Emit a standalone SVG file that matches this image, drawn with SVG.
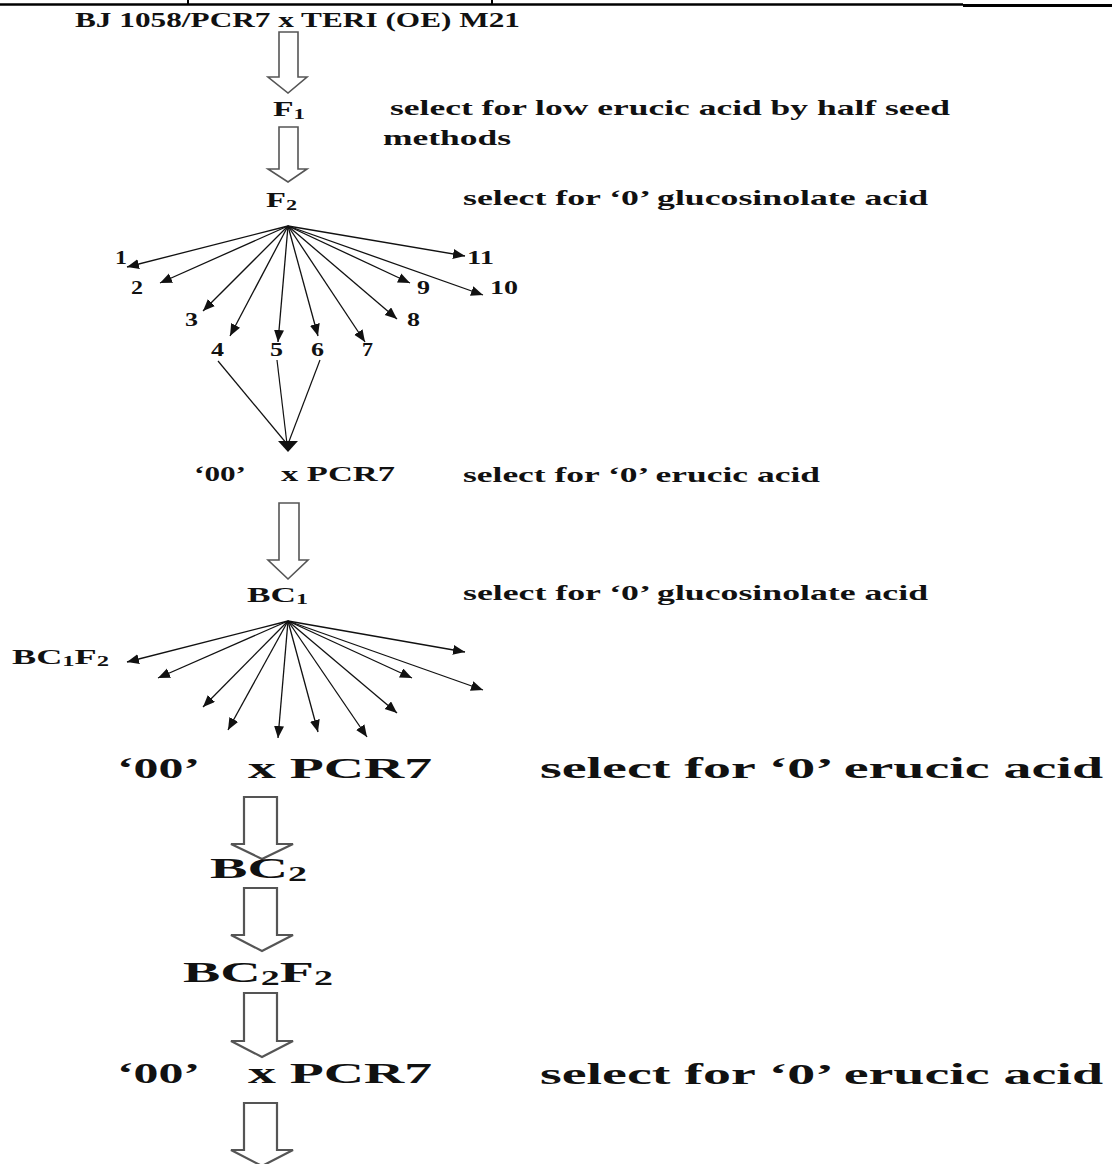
<svg xmlns="http://www.w3.org/2000/svg" width="1112" height="1164" viewBox="0 0 1112 1164">
<defs>
<style>
text{font-family:"Liberation Serif","Times New Roman",serif;font-weight:bold;fill:#111}
.s{font-size:22px}
.d{font-size:19px}
.b{font-size:30px}
.sub{font-size:0.68em}
.fan{stroke:#111;stroke-width:1.3;fill:none;marker-end:url(#ah)}
.thin{stroke:#111;stroke-width:1.2;fill:none}
.ha{fill:#fff;stroke:#555;stroke-width:1.6;stroke-linejoin:miter}
.hb{fill:#fff;stroke:#555;stroke-width:2.2;stroke-linejoin:miter}
.rule{stroke:#000;fill:none}
</style>
<marker id="ah" markerUnits="userSpaceOnUse" markerWidth="13" markerHeight="11" refX="12" refY="5" orient="auto">
<path d="M0,0 L12,5 L0,10 z" fill="#111"/>
</marker>
</defs>
<g id="frame">
<line class="rule" x1="0" y1="4.5" x2="963" y2="4.5" stroke-width="2.5"/>
<line class="rule" x1="963" y1="5.5" x2="1112" y2="5.5" stroke-width="3"/>
<line class="rule" x1="188" y1="0" x2="188" y2="5" stroke-width="2"/>
<line class="rule" x1="492" y1="0" x2="492" y2="5" stroke-width="2"/>
</g>
<g id="connectors">
<path class="ha" d="M279,32 L298,32 L298,77 L307,77 L288,93 L268,77 L279,77 Z"/>
<path class="ha" d="M279,127 L298,127 L298,169 L307,169 L288,182 L268,169 L279,169 Z"/>
<path class="ha" d="M279,503 L299,503 L299,560 L308,560 L288,579 L268,560 L279,560 Z"/>
<path class="hb" d="M244,797 L277,797 L277,844 L293,844 L262,859 L231,844 L244,844 Z"/>
<path class="hb" d="M244,888 L277,888 L277,935 L293,935 L262,951 L231,935 L244,935 Z"/>
<path class="hb" d="M244,993 L277,993 L277,1041 L293,1041 L262,1057 L231,1041 L244,1041 Z"/>
<path class="hb" d="M244,1103 L277,1103 L277,1150 L293,1150 L262,1166 L231,1150 L244,1150 Z"/>
<g id="fanF2">
<line class="fan" x1="288" y1="226" x2="127" y2="267"/>
<line class="fan" x1="288" y1="226" x2="160" y2="283"/>
<line class="fan" x1="288" y1="226" x2="203" y2="311"/>
<line class="fan" x1="288" y1="226" x2="230" y2="336"/>
<line class="fan" x1="288" y1="226" x2="278" y2="342"/>
<line class="fan" x1="288" y1="226" x2="318" y2="336"/>
<line class="fan" x1="288" y1="226" x2="365" y2="342"/>
<line class="fan" x1="288" y1="226" x2="397" y2="319"/>
<line class="fan" x1="288" y1="226" x2="410" y2="283"/>
<line class="fan" x1="288" y1="226" x2="483" y2="295"/>
<line class="fan" x1="288" y1="226" x2="465" y2="256"/>
</g>
<g id="merge">
<line class="thin" x1="218" y1="361" x2="287" y2="444"/>
<line class="thin" x1="277" y1="360" x2="287" y2="444"/>
<line class="thin" x1="320" y1="360" x2="288" y2="444"/>
<path d="M278,441 L298,441 L288,452 Z" fill="#111"/>
</g>
<g id="fanBC1">
<line class="fan" x1="288" y1="621" x2="127" y2="662"/>
<line class="fan" x1="288" y1="621" x2="158" y2="678"/>
<line class="fan" x1="288" y1="621" x2="203" y2="707"/>
<line class="fan" x1="288" y1="621" x2="228" y2="730"/>
<line class="fan" x1="288" y1="621" x2="278" y2="738"/>
<line class="fan" x1="288" y1="621" x2="318" y2="732"/>
<line class="fan" x1="288" y1="621" x2="367" y2="737"/>
<line class="fan" x1="288" y1="621" x2="397" y2="713"/>
<line class="fan" x1="288" y1="621" x2="412" y2="678"/>
<line class="fan" x1="288" y1="621" x2="483" y2="690"/>
<line class="fan" x1="288" y1="621" x2="465" y2="652"/>
</g>
</g>
<g id="n-parents"><text class="s" x="75" y="27" font-size="21" textLength="445" lengthAdjust="spacingAndGlyphs">BJ 1058/PCR7 x TERI (OE) M21</text></g>
<g id="n-f1"><text class="s" x="273" y="116" font-size="23" textLength="32" lengthAdjust="spacingAndGlyphs">F<tspan class="sub" dy="3">1</tspan></text></g>
<g id="n-f1-note">
<text class="s" x="390" y="115" textLength="560" lengthAdjust="spacingAndGlyphs">select for low erucic acid by half seed</text>
<text class="s" x="383" y="145" textLength="128" lengthAdjust="spacingAndGlyphs">methods</text>
</g>
<g id="n-f2"><text class="s" x="266" y="207" font-size="23" textLength="31" lengthAdjust="spacingAndGlyphs">F<tspan class="sub" dy="3">2</tspan></text></g>
<g id="n-f2-note"><text class="s" x="463" y="205" textLength="465" lengthAdjust="spacingAndGlyphs">select for ‘0’ glucosinolate acid</text></g>
<g id="n-lines">
<text class="d" x="115" y="264" textLength="12" lengthAdjust="spacingAndGlyphs">1</text>
<text class="d" x="131" y="294" textLength="12" lengthAdjust="spacingAndGlyphs">2</text>
<text class="d" x="185" y="326" textLength="13" lengthAdjust="spacingAndGlyphs">3</text>
<text class="d" x="211" y="356" textLength="13" lengthAdjust="spacingAndGlyphs">4</text>
<text class="d" x="270" y="356" textLength="13" lengthAdjust="spacingAndGlyphs">5</text>
<text class="d" x="311" y="356" textLength="13" lengthAdjust="spacingAndGlyphs">6</text>
<text class="d" x="362" y="356" textLength="11" lengthAdjust="spacingAndGlyphs">7</text>
<text class="d" x="407" y="326" textLength="13" lengthAdjust="spacingAndGlyphs">8</text>
<text class="d" x="417" y="294" textLength="13" lengthAdjust="spacingAndGlyphs">9</text>
<text class="d" x="490" y="294" textLength="28" lengthAdjust="spacingAndGlyphs">10</text>
<text class="d" x="467" y="264" textLength="27" lengthAdjust="spacingAndGlyphs">11</text>
</g>
<g id="n-cross1">
<text class="s" x="194" y="481" font-size="23" textLength="52" lengthAdjust="spacingAndGlyphs">‘00’</text>
<text class="s" x="281" y="481" font-size="23" textLength="114" lengthAdjust="spacingAndGlyphs">x PCR7</text>
</g>
<g id="n-cross1-note"><text class="s" x="463" y="482" textLength="357" lengthAdjust="spacingAndGlyphs">select for ‘0’ erucic acid</text></g>
<g id="n-bc1"><text class="s" x="247" y="602" font-size="23" textLength="61" lengthAdjust="spacingAndGlyphs">BC<tspan class="sub" dy="2">1</tspan></text></g>
<g id="n-bc1-note"><text class="s" x="463" y="600" textLength="465" lengthAdjust="spacingAndGlyphs">select for ‘0’ glucosinolate acid</text></g>
<g id="n-bc1f2"><text class="s" x="12" y="664" font-size="23" textLength="97" lengthAdjust="spacingAndGlyphs">BC<tspan class="sub" dy="2">1</tspan><tspan dy="-2">F</tspan><tspan class="sub" dy="2">2</tspan></text></g>
<g id="n-cross2">
<text class="b" x="117" y="778" textLength="83" lengthAdjust="spacingAndGlyphs">‘00’</text>
<text class="b" x="248" y="778" textLength="184" lengthAdjust="spacingAndGlyphs">x PCR7</text>
</g>
<g id="n-cross2-note"><text class="b" x="540" y="778" textLength="563" lengthAdjust="spacingAndGlyphs">select for ‘0’ erucic acid</text></g>
<g id="n-bc2"><text class="b" x="210" y="878" font-size="29" textLength="97" lengthAdjust="spacingAndGlyphs">BC<tspan class="sub" dy="3">2</tspan></text></g>
<g id="n-bc2f2"><text class="b" x="183" y="982" font-size="29" textLength="150" lengthAdjust="spacingAndGlyphs">BC<tspan class="sub" dy="3">2</tspan><tspan dy="-3">F</tspan><tspan class="sub" dy="3">2</tspan></text></g>
<g id="n-cross3">
<text class="b" x="117" y="1083" textLength="83" lengthAdjust="spacingAndGlyphs">‘00’</text>
<text class="b" x="248" y="1083" textLength="184" lengthAdjust="spacingAndGlyphs">x PCR7</text>
</g>
<g id="n-cross3-note"><text class="b" x="540" y="1084" textLength="563" lengthAdjust="spacingAndGlyphs">select for ‘0’ erucic acid</text></g>
</svg>
